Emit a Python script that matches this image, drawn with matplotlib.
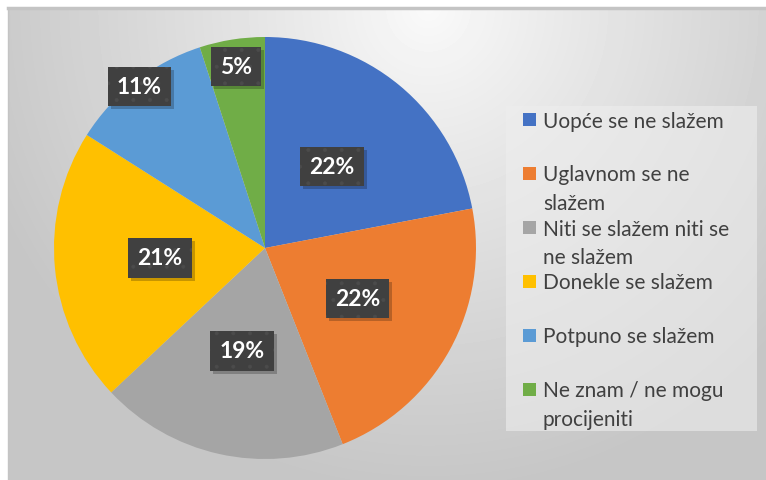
import matplotlib.pyplot as plt
import matplotlib.patches as mpatches
import matplotlib.transforms as mtransforms
import numpy as np

plt.rcParams['font.family'] = ['Lato', 'DejaVu Sans']
plt.rcParams['hatch.linewidth'] = 0.4

labels = ['Uopće se ne slažem', 'Uglavnom se ne\nslažem', 'Niti se slažem niti se\nne slažem',
          'Donekle se slažem', 'Potpuno se slažem', 'Ne znam / ne mogu\nprocijeniti']
values = [22, 22, 19, 21, 11, 5]
colors = ['#4472C4', '#ED7D31', '#A5A5A5', '#FFC000', '#5B9BD5', '#70AD47']
label_dist = [0.5, 0.5, 0.5, 0.5, 0.97, 0.87]

W, H = 766, 481
fig = plt.figure(figsize=(W / 100, H / 100), dpi=100)
fig.patch.set_facecolor('white')

# chart area background: soft radial gradient
bg = fig.add_axes([8 / W, 0, (W - 8) / W, (H - 9) / H])
yy, xx = np.mgrid[0:472, 0:758]
t = np.sqrt(((xx - 420) / 470.0) ** 2 + ((yy - 0) / 480.0) ** 2)
t = np.clip(t, 0, 1)
shade = (250 - 52 * t ** 0.9) / 255.0
bg.imshow(shade, cmap='gray', vmin=0, vmax=1, aspect='auto', interpolation='bilinear')
bg.set_xticks([])
bg.set_yticks([])
for s in bg.spines.values():
    s.set_color('#c4c4c4')
    s.set_linewidth(1.0)
bg.spines['top'].set_linewidth(2.5)
bg.spines['bottom'].set_visible(False)
bg.spines['right'].set_visible(False)

# pie
cx, cy, r = 265, 249, 211
ax = fig.add_axes([(cx - r) / W, (H - cy - r) / H, 2 * r / W, 2 * r / H])
ax.patch.set_alpha(0)
wedges, _ = ax.pie(values, colors=colors, startangle=90, counterclock=False,
                   wedgeprops=dict(linewidth=0))
ax.set_xlim(-1, 1)
ax.set_ylim(-1, 1)
ax.set_aspect('equal')
ax.axis('off')

pct_texts = []
for w, v, d in zip(wedges, values, label_dist):
    ang = np.deg2rad((w.theta1 + w.theta2) / 2)
    x, y = d * np.cos(ang), d * np.sin(ang)
    pct_texts.append(ax.text(x, y, f'{v}%', ha='center', va='center', fontsize=16.5,
                             fontweight='bold', color='white', zorder=5,
                             bbox=dict(boxstyle='square,pad=0.4', facecolor='#404040',
                                       edgecolor='#4b4b4b', linewidth=0, hatch='.')))

# legend (drawn by hand so the marker sits on the first line, like Excel)
px = lambda x0, y0: (x0 / W, 1 - y0 / H)
fig.patches.append(mpatches.Rectangle(px(506, 432), 251 / W, 325 / H, transform=fig.transFigure,
                                      facecolor='#eeeeee', alpha=0.6, linewidth=0))
slot = 54
for i, (lab, col) in enumerate(zip(labels, colors)):
    yc = 120 + i * slot
    fig.patches.append(mpatches.Rectangle(px(523, yc + 6.5), 13 / W, 13 / H,
                                          transform=fig.transFigure, facecolor=col, linewidth=0))
    for j, line in enumerate(lab.split('\n')):
        fig.text(*px(543, yc + 7.5 + j * 29), line, fontsize=15, color='#404040',
                 va='baseline', ha='left')

# soft drop shadow behind the label boxes
fig.canvas.draw()
for tx in pct_texts:
    bb = tx.get_bbox_patch().get_window_extent()
    ax.add_patch(mpatches.Rectangle((bb.x0 + 3, bb.y0 - 3), bb.width, bb.height,
                                    transform=None, facecolor='black', alpha=0.22,
                                    linewidth=0, zorder=4))

fig.savefig('out.png', dpi=100)
